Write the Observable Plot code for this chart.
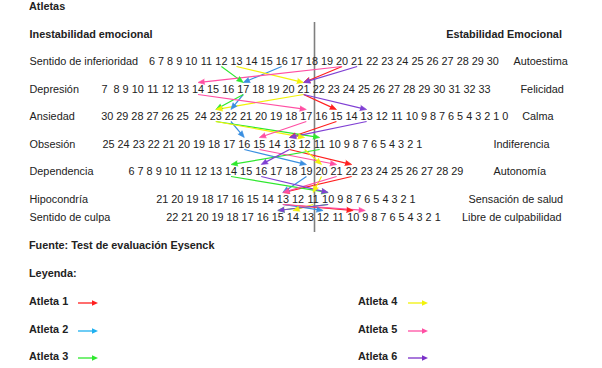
<!DOCTYPE html>
<html><head><meta charset="utf-8">
<script src="https://cdn.jsdelivr.net/npm/d3@7"></script>
<script src="https://cdn.jsdelivr.net/npm/@observablehq/plot@0.6"></script>
<style>
body{margin:0;background:#fff;font-family:"Liberation Sans",Arial,sans-serif;font-size:10.85px;color:#222;}
#page{position:relative;width:602px;height:368px;overflow:hidden;background:#fff;}
.t{position:absolute;font-weight:bold;line-height:13px;white-space:nowrap;}
#chart{position:absolute;left:0;top:14px;}
.arr{position:absolute;}
</style></head>
<body><div id="page"></div>
<script>
// ---------- data ----------
const rowNames = ["Sentido de inferioridad","Depresión","Ansiedad","Obsesión","Dependencia","Hipocondría","Sentido de culpa"];
const rowOpposites = ["Autoestima","Felicidad","Calma","Indiferencia","Autonomía","Sensación de salud","Libre de culpabilidad"];
const scaleInferioridad = [6,7,8,9,10,11,12,13,14,15,16,17,18,19,20,21,22,23,24,25,26,27,28,29,30];
const scaleDepresion = [7,8,9,10,11,12,13,14,15,16,17,18,19,20,21,22,23,24,25,26,27,28,29,30,31,32,33];
const scaleAnsiedad = [30,29,28,27,26,25,24,23,22,21,20,19,18,17,16,15,14,13,12,11,10,9,8,7,6,5,4,3,2,1,0];
const scaleObsesion = [25,24,23,22,21,20,19,18,17,16,15,14,13,12,11,10,9,8,7,6,5,4,3,2,1];
const scaleDependencia = [6,7,8,9,10,11,12,13,14,15,16,17,18,19,20,21,22,23,24,25,26,27,28,29];
const scaleHipocondria = [21,20,19,18,17,16,15,14,13,12,11,10,9,8,7,6,5,4,3,2,1];
const scaleCulpa = [22,21,20,19,18,17,16,15,14,13,12,11,10,9,8,7,6,5,4,3,2,1];
const rowScales = [scaleInferioridad,scaleDepresion,scaleAnsiedad,scaleObsesion,scaleDependencia,scaleHipocondria,scaleCulpa];

const athleteNames = ["Atleta 1","Atleta 2","Atleta 3","Atleta 4","Atleta 5","Atleta 6"];
const athleteColors = ["#ff1f1f","#3a8fe0","#2ee82e","#f2f20a","#ff4fa3","#8040d4"];
const legendColors = ["#ff1f1f","#1fb0f0","#2ee82e","#f2f20a","#ff4fa3","#7a30c8"];
const atleta1 = [20,21,15,13,22,13,10];
const atleta2 = [16,17,22,16,19,13,12];
const atleta3 = [12,17,23,11,14,10,15];
const atleta4 = [13,21,23,12,20,11,14];
const atleta5 = [20,14,17,15,21,13,9];
const atleta6 = [21,21,13,13,16,10,15];
const athleteScores = [atleta1,atleta2,atleta3,atleta4,atleta5,atleta6];

// ---------- layout ----------
const fs = 10.85;
const digitW = 0.556*fs, spaceW = 0.278*fs;
const H = 222;
const rowY = [47,75,102,130,157,185,203];
const rowStart = [148.5,101,100.7,102,128,155.7,165.7];
const rowWideGap = [null,7,25,null,null,null,null];
const oppositeX = [513,520,521.7,493,493,468,461.5];
const labelX = 29;
const midX = 314;

// positions of each score label, from text flow
const ticks = [];
const pos = rowScales.map((sc, r) => {
  const m = new Map();
  let x = rowStart[r];
  for (const s of sc) {
    const w = String(s).length*digitW;
    const cx = x + w/2;
    m.set(s, cx);
    ticks.push({row: r, label: String(s), x: cx, y: rowY[r]});
    x += w + spaceW*(s === rowWideGap[r] ? 2 : 1);
  }
  return m;
});

const segs = [];
athleteScores.forEach((sc, a) => {
  for (let r = 0; r < sc.length-1; r++) {
    const x1 = pos[r].get(sc[r]), y1 = rowY[r]+5;
    const x2 = pos[r+1].get(sc[r+1]), y2 = rowY[r+1]-7;
    const dx = x2-x1, dy = y2-y1, L = Math.hypot(dx,dy);
    segs.push({athlete: athleteNames[a], x1, y1, x2, y2,
      xs: x2 - dx/L*4, ys: y2 - dy/L*4,
      angle: Math.atan2(dx, -dy)*180/Math.PI});
  }
});

const font = '"Liberation Sans", Arial, sans-serif';
const chart = Plot.plot({
  width: 602, height: H, margin: 0,
  x: {type: "linear", domain: [0,602], range: [0,602], axis: null},
  y: {type: "linear", domain: [0,H], range: [0,H], axis: null},
  color: {domain: athleteNames, range: athleteColors},
  style: {fontFamily: font, fontSize: fs+"px", background: "transparent", color: "#222", overflow: "visible"},
  marks: [
    Plot.ruleX([midX], {y1: 8, y2: 218, stroke: "#7f7f7f", strokeWidth: 1.6}),
    Plot.text(["Inestabilidad emocional"], {x: labelX, y: 20, text: d=>d, textAnchor: "start", fontWeight: "bold"}),
    Plot.text(["Estabilidad Emocional"], {x: 445.7, y: 20, text: d=>d, textAnchor: "start", fontWeight: "bold"}),
    Plot.text(rowNames, {x: labelX, y: (d,i)=>rowY[i], text: d=>d, textAnchor: "start"}),
    Plot.text(rowOpposites, {x: (d,i)=>oppositeX[i], y: (d,i)=>rowY[i], text: d=>d, textAnchor: "start"}),
    Plot.text(ticks, {x: "x", y: "y", text: "label"}),
    Plot.link(segs, {x1: "x1", y1: "y1", x2: "xs", y2: "ys", stroke: "athlete", strokeWidth: 1.2}),
    Plot.vector(segs, {x: "x2", y: "y2", rotate: "angle", length: 6.5, r: 2.6, shape: "spike", anchor: "end",
      stroke: "athlete", fill: "athlete", fillOpacity: 1, strokeWidth: 0.6})
  ]
});
chart.id = "chart";

const page = document.getElementById("page");
function addText(txt, left, cy) {
  const d = document.createElement("div");
  d.className = "t"; d.textContent = txt;
  d.style.left = left+"px"; d.style.top = (cy-6.5)+"px";
  page.appendChild(d);
}
addText("Atletas", 29, 6);
page.appendChild(chart);
addText("Fuente: Test de evaluación Eysenck", 29, 245);
addText("Leyenda:", 29, 273);
const legRowY = [301,329,356];
athleteNames.forEach((n, i) => {
  const col = Math.floor(i/3), row = i%3;
  const tx = col ? 358 : 29, ax = col ? 408 : 78;
  addText(n, tx, legRowY[row]);
  const ns = "http://www.w3.org/2000/svg";
  const s = document.createElementNS(ns, "svg");
  s.setAttribute("width", 22); s.setAttribute("height", 8);
  s.setAttribute("class", "arr");
  s.style.left = ax+"px"; s.style.top = (legRowY[row]+2-4)+"px";
  const c = legendColors[i];
  s.innerHTML = `<line x1="0" y1="4" x2="16" y2="4" stroke="${c}" stroke-width="1.3"/><polygon points="14,1.3 20,4 14,6.7" fill="${c}"/>`;
  page.appendChild(s);
});
</script>
</body></html>
